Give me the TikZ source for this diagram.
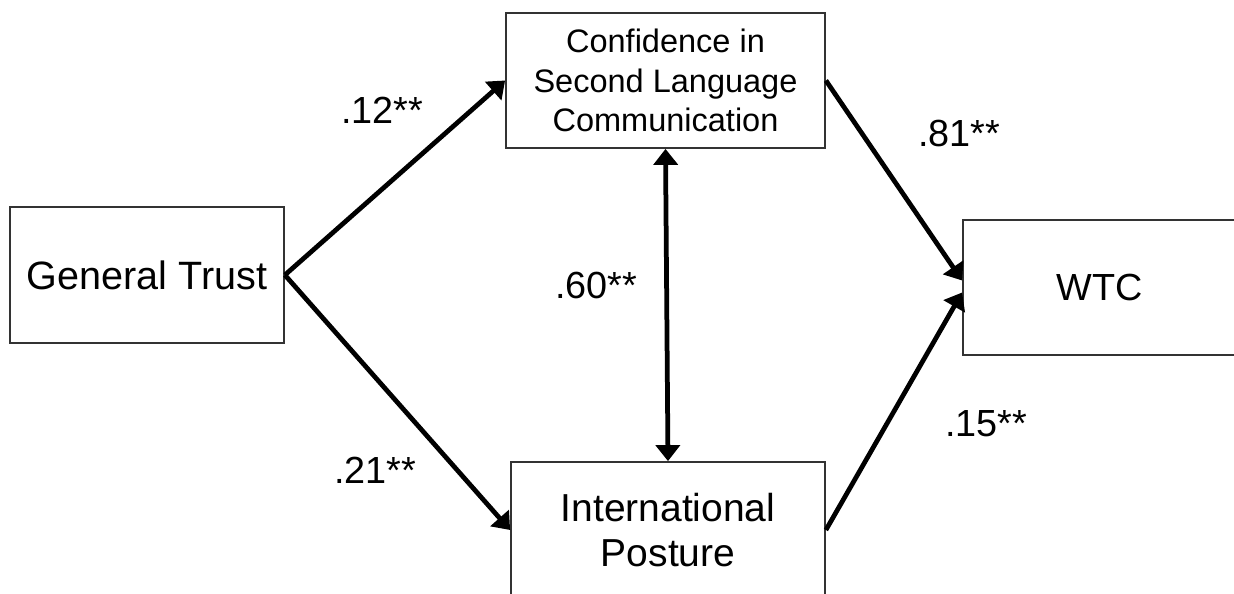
\documentclass[tikz,border=0pt]{standalone}
\usepackage{fontspec}
\setmainfont{Liberation Sans}
\usetikzlibrary{arrows.meta}

\begin{document}
\begin{tikzpicture}[x=0.2mm,y=-0.2mm,
    box/.style={draw=black!80,line width=1pt,inner sep=0pt,align=center},
    path/.style={line width=0.95mm,-{Triangle[length=3.2mm,width=4.8mm]}},
    both/.style={line width=0.95mm,{Triangle[length=3.2mm,width=4.8mm]}-{Triangle[length=3.2mm,width=4.8mm]}},
    coef/.style={font=\fontsize{21.5}{25}\selectfont}]
            \useasboundingbox (0,0) rectangle (1234,594);
            \clip (0,0) rectangle (1234,594);

            \node[box,minimum width=54.8mm,minimum height=27.2mm,font=\fontsize{22.5}{26}\selectfont] (trust) at (147,275) {General Trust};
            \node[box,minimum width=63.8mm,minimum height=27mm,font=\fontsize{18.5}{22.6}\selectfont] (conf) at (665.5,80.5) {Confidence in\\Second Language\\Communication};
            \node[box,minimum width=54.8mm,minimum height=27mm,font=\fontsize{21.5}{25}\selectfont] (wtc) at (1100,287.5) {WTC};
            \node[box,minimum width=62.8mm,minimum height=27.2mm,font=\fontsize{22.2}{26}\selectfont] (post) at (668,530) {International\\Posture};

            \coordinate (wtc1) at ([yshift=1.4mm]wtc.west);
            \coordinate (wtc2) at ([yshift=-1mm]wtc.west);

            \draw[path] (trust.east)--(conf.west);
            \draw[path] (trust.east)--(post.west);
            \draw[path] (conf.east)--(wtc1);
            \draw[path] (post.east)--(wtc2);
            \draw[both] (conf.south)--(post.north);

            \foreach \name/\x/\y/\val in {c12/382/110/.12,c81/959/133/.81,c60/596/285/.60,c21/375/470/.21,c15/986/424/.15}{
                \node[coef] (\name) at (\x,\y) {\val**};
            }
        \end{tikzpicture}
\end{document}
